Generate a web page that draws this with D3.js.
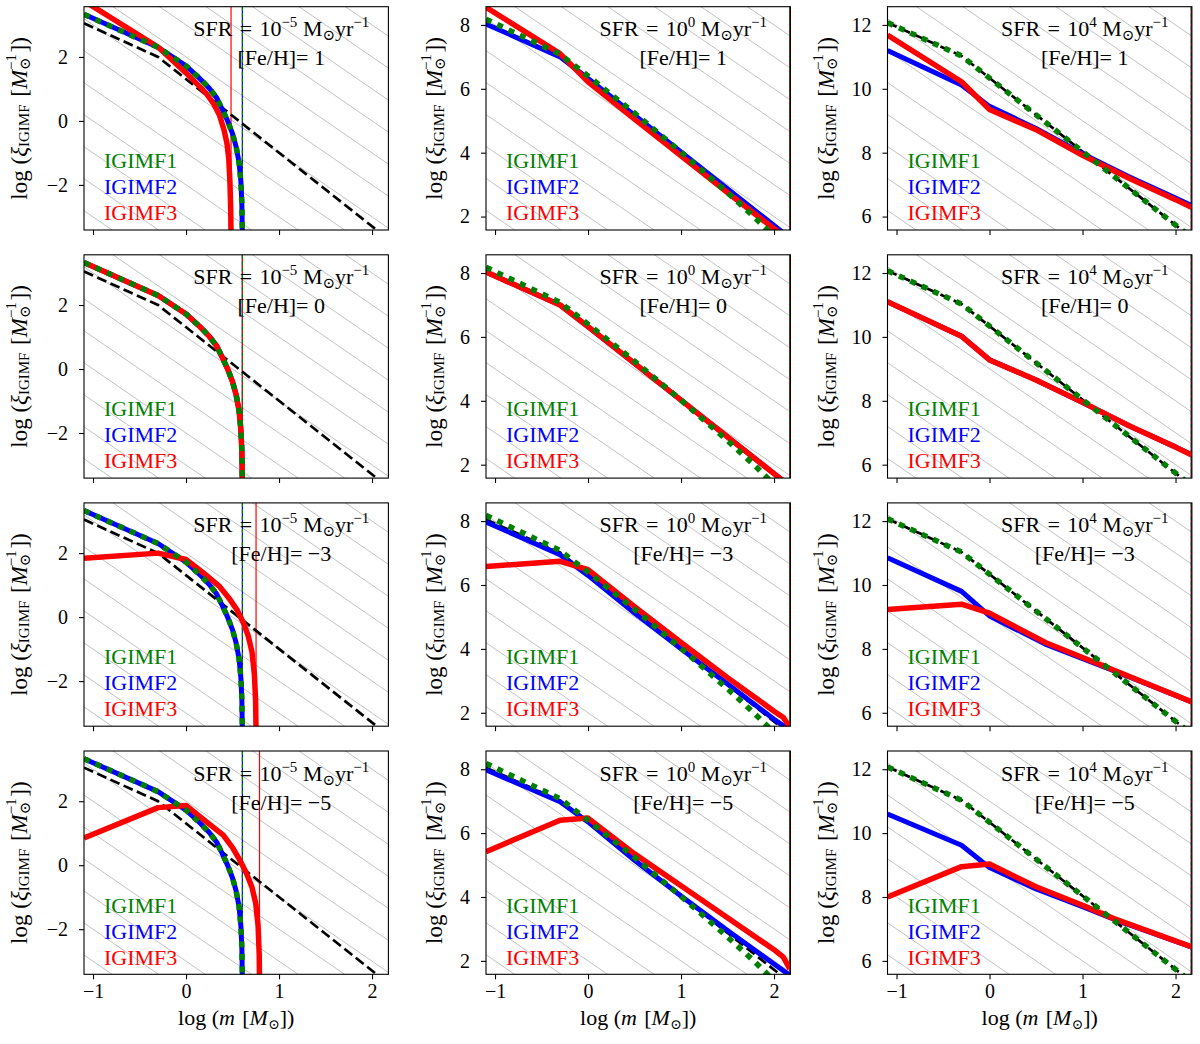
<!DOCTYPE html>
<html>
<head>
<meta charset="utf-8">
<script src="https://cdn.jsdelivr.net/npm/d3@7"></script>
<style>
  body { margin: 0; background: #fff; }
  svg text { font-family: "Liberation Serif", "DejaVu Serif", serif; }
</style>
</head>
<body>
<div id="chart"></div>
<script>
// ---- data (log m, log xi) ----
var sfrExp = [-5, 0, 4];          // columns
var fehVals = [1, 0, -3, -5];     // rows
var xDomain = [-1.097, 2.176];
var xTicks = [-1, 0, 1, 2];
var yDomains = [[-3.41, 3.57], [1.58, 8.57], [5.58, 12.57]];
var yTicks = [[-2, 0, 2], [2, 4, 6, 8], [6, 8, 10, 12]];

// background guide lines: log xi = c - 2 log m
var hatchSlope = -2;
var hatchC = [
  [-5, -4, -3, -2, -1, 0, 1, 2, 3, 4, 5, 6, 7],
  [0, 1, 2, 3, 4, 5, 6, 7, 8, 9, 10, 11, 12],
  [4, 5, 6, 7, 8, 9, 10, 11, 12, 13, 14, 15, 16]
];

// canonical IMF (black dashed), one per column
var canonIMF = [
  [[-1.097, 3.05], [-0.301, 2.00], [2.176, -3.70]],
  [[-1.097, 8.05], [-0.301, 7.02], [2.176, 1.32]],
  [[-1.097, 12.07], [-0.301, 11.03], [2.176, 5.33]]
];

// low-SFR truncated IGIMF shape shared by several panels
var lowSfrTrunc = [[-1.097, 3.33], [-0.301, 2.30], [0.0, 1.72], [0.15, 1.32], [0.25, 1.02],
  [0.33, 0.72], [0.40, 0.30], [0.45, -0.02], [0.50, -0.40], [0.54, -0.82], [0.57, -1.30],
  [0.59, -1.90], [0.60, -2.55], [0.606, -3.60]];
var midSfrIgimf1 = [[-1.097, 8.18], [-0.301, 7.08], [0.0, 6.40], [0.5, 5.24], [1.0, 4.02],
  [1.5, 2.75], [1.8, 1.95], [2.0, 1.38], [2.17, 0.85]];
var midSfrFlat = [[-1.097, 8.03], [-0.301, 7.00], [0.0, 6.32], [1.0, 4.02], [2.0, 1.72], [2.17, 1.33]];
var highSfrZ0 = [[-1.097, 11.10], [-0.301, 10.02], [0.0, 9.28], [0.5, 8.65], [1.0, 7.95],
  [1.5, 7.22], [2.0, 6.55], [2.176, 6.30]];

// igimf[row][col]
var igimf1 = [
  [lowSfrTrunc, midSfrIgimf1, canonIMF[2]],
  [lowSfrTrunc, midSfrIgimf1, canonIMF[2]],
  [lowSfrTrunc, midSfrIgimf1, canonIMF[2]],
  [lowSfrTrunc, midSfrIgimf1, canonIMF[2]]
];
var igimf2 = [
  [lowSfrTrunc, midSfrFlat,
    [[-1.097, 11.20], [-0.301, 10.12], [0.0, 9.45], [0.5, 8.76], [1.0, 7.97], [1.5, 7.25], [2.0, 6.58], [2.176, 6.34]]],
  [lowSfrTrunc, midSfrFlat, highSfrZ0],
  [lowSfrTrunc,
    [[-1.097, 7.97], [-0.301, 6.95], [0.0, 6.30], [0.5, 5.12], [1.0, 4.00], [1.5, 2.90], [2.0, 1.80], [2.17, 1.45]],
    [[-1.097, 10.85], [-0.301, 9.80], [0.0, 9.03], [0.6, 8.15], [1.3, 7.36], [2.176, 6.34]]],
  [lowSfrTrunc,
    [[-1.097, 7.98], [-0.301, 6.98], [0.0, 6.35], [0.5, 5.15], [1.0, 4.03], [1.5, 2.95], [2.0, 1.90], [2.17, 1.55]],
    [[-1.097, 10.60], [-0.301, 9.62], [0.0, 8.92], [0.5, 8.25], [1.0, 7.70], [1.33, 7.31], [2.176, 6.43]]]
];
var igimf3 = [
  [[[-1.097, 3.75], [-0.301, 2.31], [0.0, 1.50], [0.12, 1.15], [0.22, 0.85], [0.30, 0.52], [0.36, 0.18],
    [0.41, -0.30], [0.44, -0.70], [0.46, -1.20], [0.472, -1.90], [0.48, -2.70], [0.484, -3.60]],
   [[-1.097, 8.55], [-0.301, 7.10], [0.0, 6.22], [0.5, 5.05], [1.0, 3.90], [1.5, 2.75], [2.0, 1.62], [2.17, 1.25]],
   [[-1.097, 11.68], [-0.301, 10.22], [0.0, 9.35], [0.5, 8.72], [1.0, 7.92], [1.5, 7.20], [2.0, 6.53], [2.176, 6.28]]],
  [lowSfrTrunc, midSfrFlat, highSfrZ0],
  [[[-1.097, 1.84], [-0.301, 2.00], [0.0, 1.80], [0.18, 1.40], [0.36, 0.96], [0.46, 0.60], [0.55, 0.22],
    [0.62, -0.20], [0.67, -0.60], [0.71, -1.10], [0.735, -1.80], [0.748, -2.60], [0.753, -3.60]],
   [[-1.097, 6.58], [-0.301, 6.74], [0.0, 6.48], [0.5, 5.32], [1.0, 4.20], [1.5, 3.10], [2.0, 2.05], [2.1, 1.85], [2.17, 1.55]],
   [[-1.097, 9.23], [-0.301, 9.40], [0.0, 9.12], [0.6, 8.20], [1.3, 7.38], [2.176, 6.34]]],
  [[[-1.097, 0.85], [-0.301, 1.80], [0.0, 1.87], [0.20, 1.40], [0.40, 0.94], [0.50, 0.55], [0.58, 0.15],
    [0.65, -0.25], [0.71, -0.70], [0.75, -1.20], [0.775, -1.90], [0.787, -2.80], [0.79, -3.60]],
   [[-1.097, 5.42], [-0.301, 6.40], [0.0, 6.47], [0.5, 5.35], [1.0, 4.35], [1.5, 3.35], [2.0, 2.35], [2.1, 2.12], [2.17, 1.75]],
   [[-1.097, 8.00], [-0.301, 8.95], [0.0, 9.03], [0.5, 8.32], [1.0, 7.74], [1.33, 7.33], [2.176, 6.44]]]
];

// most massive star (vertical lines), mmax[row][col]
var mmax12 = [[0.606, 2.17, 2.17], [0.606, 2.17, 2.17], [0.606, 2.17, 2.17], [0.606, 2.17, 2.17]];
var mmax3 = [[0.484, 2.17, 2.17], [0.606, 2.17, 2.17], [0.753, 2.17, 2.17], [0.79, 2.17, 2.17]];

var seriesNames = ["IGIMF1", "IGIMF2", "IGIMF3"];
var seriesColors = ["green", "blue", "red"];

// ---- layout ----
var width = 1200, height = 1044;
var panelLeft = [84, 486, 887.5];
var panelTop = [6.7, 254.8, 502.9, 751];
var panelW = 304.4, panelH = 223.3;
var ylabelOffset = [62, 49, 59];

var svg = d3.select("#chart").append("svg")
    .attr("width", width)
    .attr("height", height);

var x = d3.scaleLinear().domain(xDomain).range([0, panelW]);

// tspans with sub/superscripts
function rich(sel, parts) {
    var shift = 0;
    parts.forEach(function(p) {
        var target = p.shift || 0;
        var t = sel.append("tspan").text(p.t).attr("dy", target - shift);
        shift = target;
        if (p.size) t.style("font-size", p.size + "px");
        if (p.italic) t.style("font-style", "italic");
        if (p.dx) t.attr("dx", p.dx);
    });
}

var fmtMinus = function(v) { return v < 0 ? "\u2212" + Math.abs(v) : String(v); };

fehVals.forEach(function(feh, r) {
    sfrExp.forEach(function(sexp, c) {
        var y = d3.scaleLinear().domain(yDomains[c]).range([panelH, 0]);
        var line = d3.line().x(d => x(d[0])).y(d => y(d[1]));

        var g = svg.append("g")
            .attr("transform", `translate(${panelLeft[c]},${panelTop[r]})`);

        var clipId = `clip-${r}-${c}`;
        g.append("clipPath").attr("id", clipId)
            .append("rect").attr("width", panelW).attr("height", panelH);

        var plot = g.append("g").attr("clip-path", `url(#${clipId})`);

        // guide lines
        plot.selectAll(".hatch")
            .data(hatchC[c])
            .join("line")
            .attr("class", "hatch")
            .attr("x1", x(xDomain[0]))
            .attr("y1", k => y(k + hatchSlope * xDomain[0]))
            .attr("x2", x(xDomain[1]))
            .attr("y2", k => y(k + hatchSlope * xDomain[1]))
            .attr("stroke", "#b4b4b4")
            .attr("stroke-width", 0.8);

        // mmax vertical lines
        plot.append("line")
            .attr("x1", x(mmax12[r][c])).attr("x2", x(mmax12[r][c]))
            .attr("y1", 0).attr("y2", panelH)
            .attr("stroke", "blue").attr("stroke-width", 1.2);
        plot.append("line")
            .attr("x1", x(mmax3[r][c])).attr("x2", x(mmax3[r][c]))
            .attr("y1", 0).attr("y2", panelH)
            .attr("stroke", "red").attr("stroke-width", 1.2);
        plot.append("line")
            .attr("x1", x(mmax12[r][c])).attr("x2", x(mmax12[r][c]))
            .attr("y1", 0).attr("y2", panelH)
            .attr("stroke", "green").attr("stroke-width", 1.2)
            .attr("stroke-dasharray", "4,2.5");

        // curves
        plot.append("path")
            .attr("d", line(canonIMF[c]))
            .attr("fill", "none").attr("stroke", "black")
            .attr("stroke-width", 2.7).attr("stroke-dasharray", "10,4.5");
        plot.append("path")
            .attr("d", line(igimf2[r][c]))
            .attr("fill", "none").attr("stroke", "blue")
            .attr("stroke-width", 5).attr("stroke-linejoin", "round");
        plot.append("path")
            .attr("d", line(igimf3[r][c]))
            .attr("fill", "none").attr("stroke", "red")
            .attr("stroke-width", 5.5).attr("stroke-linejoin", "round");
        plot.append("path")
            .attr("d", line(igimf1[r][c]))
            .attr("fill", "none").attr("stroke", "green")
            .attr("stroke-width", 5.5).attr("stroke-dasharray", "6,6.5");

        // frame
        g.append("rect")
            .attr("width", panelW).attr("height", panelH)
            .attr("fill", "none").attr("stroke", "black").attr("stroke-width", 1.1);

        // axes
        var yAxis = g.append("g")
            .call(d3.axisLeft(y).tickValues(yTicks[c]).tickSize(5).tickPadding(11).tickFormat(fmtMinus));
        var xAxis = g.append("g")
            .attr("transform", `translate(0,${panelH})`)
            .call(d3.axisBottom(x).tickValues(xTicks).tickSize(5).tickPadding(5)
                .tickFormat(r === fehVals.length - 1 ? fmtMinus : ""));
        [yAxis, xAxis].forEach(function(a) {
            a.select(".domain").remove();
            a.attr("font-family", null).attr("font-size", null);
            a.selectAll("line").attr("stroke-width", 1.1);
            a.selectAll("text").style("font-size", "20px").attr("fill", "black");
        });

        // y label
        var yl = g.append("text")
            .attr("transform", `translate(${-ylabelOffset[c]},${panelH / 2}) rotate(-90)`)
            .attr("text-anchor", "middle")
            .attr("dominant-baseline", "middle")
            .style("font-size", "23px");
        rich(yl, [
            { t: "log\u2005(" },
            { t: "\u03be", italic: true },
            { t: "IGIMF", shift: 4, size: 15 },
            { t: "\u2004[", shift: 0 },
            { t: "M", italic: true },
            { t: "\u22121", shift: -9, size: 15 },
            { t: "\u2299", shift: 5, size: 15, dx: -16 },
            { t: "])", shift: 0, dx: 5 }
        ]);

        // x label (bottom row)
        if (r === fehVals.length - 1) {
            var xl = g.append("text")
                .attr("x", panelW / 2).attr("y", 274)
                .attr("text-anchor", "middle")
                .style("font-size", "22px");
            rich(xl, [
                { t: "log\u2005(" },
                { t: "m", italic: true },
                { t: "\u2004[" },
                { t: "M", italic: true },
                { t: "\u2299", shift: 4, size: 14 },
                { t: "])", shift: 0 }
            ]);
        }

        // annotations
        var tx = panelW * 0.648;
        var s1 = g.append("text")
            .attr("x", tx).attr("y", 29.5)
            .attr("text-anchor", "middle")
            .style("font-size", "22px");
        rich(s1, [
            { t: "SFR\u2004=\u200410" },
            { t: fmtMinus(sexp), shift: -9, size: 15 },
            { t: "\u2005M", shift: 0 },
            { t: "\u2299", shift: 4, size: 15 },
            { t: "yr", shift: 0 },
            { t: "\u22121", shift: -9, size: 15 },
            { t: "", shift: 0 }
        ]);
        g.append("text")
            .attr("x", tx).attr("y", 58.5)
            .attr("text-anchor", "middle")
            .style("font-size", "22px")
            .text("[Fe/H]=\u2005" + fmtMinus(feh));

        seriesNames.forEach(function(name, i) {
            g.append("text")
                .attr("x", 20).attr("y", 161.5 + i * 26)
                .attr("fill", seriesColors[i])
                .style("font-size", "22px")
                .text(name);
        });
    });
});
</script>
</body>
</html>
